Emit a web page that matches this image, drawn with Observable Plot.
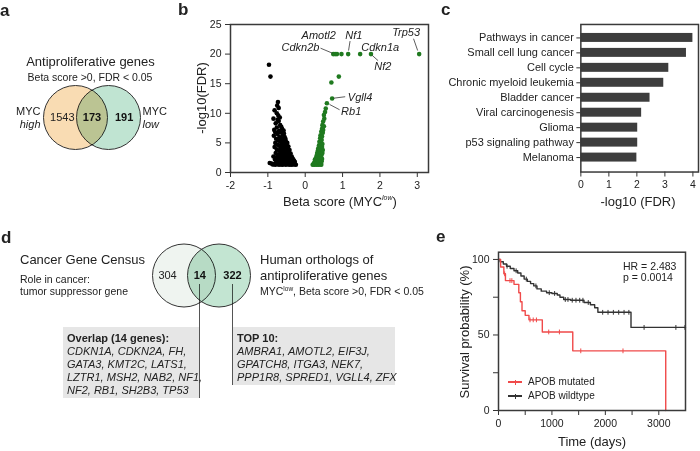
<!DOCTYPE html>
<html><head><meta charset="utf-8">
<script src="https://cdn.jsdelivr.net/npm/d3@7"></script>
<script src="https://cdn.jsdelivr.net/npm/@observablehq/plot@0.6"></script>
<style>
body{margin:0;background:#fff;font-family:"Liberation Sans",Arial,Helvetica,sans-serif;color:#222;}
#fig{position:relative;width:700px;height:451px;overflow:hidden;background:#fff;}
.abs{position:absolute;white-space:nowrap;line-height:1.15;}
.pl{position:absolute;}
.box{position:absolute;background:#e6e6e6;}
.vline{position:absolute;width:1px;background:#555;}
</style>
</head><body><div id="fig"></div>
<script>
// ---------------- DATA ----------------
// a: Venn
const vennASets = [
  {set: "MYC high", pos: -1, fill: "#f9dcb3"},
  {set: "MYC low", pos: 1, fill: "#c0e4d2"}
];
const vennACounts = [
  {label: "1543", pos: -1.8, bold: false},
  {label: "173", pos: 0, bold: true},
  {label: "191", pos: 1.95, bold: true}
];
// b: volcano (beta score, -log10 FDR)
const negGenes = [
  [-0.97,18.2],[-0.93,16.2],
  [-0.73,11.9],[-0.75,11.3],[-0.71,10.9],[-0.82,10.5],[-0.76,10.0],[-0.72,9.6],[-0.85,9.1],[-0.68,9.3],
  [-0.71,8.7],[-0.74,8.9],[-0.79,8.3],[-0.67,8.0],[-0.76,7.6],[-0.64,7.7],[-0.62,7.4],[-0.83,7.2],[-0.7,7.0],
  [-0.58,7.1],[-0.66,6.8],[-0.8,6.8],[-0.74,6.5],[-0.57,6.6],[-0.6,6.4],[-0.84,6.2],[-0.69,6.0],[-0.55,6.0],
  [-0.64,5.8],[-0.78,5.7],[-0.53,5.7],[-0.59,5.5],[-0.72,5.4],[-0.52,5.3],[-0.67,5.2],[-0.8,5.0],[-0.62,5.0],
  [-0.48,5.0],[-0.56,4.8],[-0.74,4.7],[-0.5,4.6],[-0.69,4.5],[-0.6,4.4],[-0.45,4.4],[-0.82,4.3],[-0.54,4.2],
  [-0.65,4.1],[-0.47,4.0],[-0.76,3.9],[-0.58,3.8],[-0.42,3.8],[-0.7,3.7],[-0.5,3.6],[-0.63,3.5],[-0.44,3.4],
  [-0.79,3.3],[-0.55,3.3],[-0.67,3.2],[-0.39,3.2],[-0.47,3.1],[-0.72,3.0],[-0.6,3.0],[-0.41,2.9],[-0.52,2.8],
  [-0.85,2.7],[-0.65,2.7],[-0.36,2.7],[-0.44,2.6],[-0.76,2.6],[-0.57,2.5],[-0.38,2.4],[-0.69,2.4],[-0.49,2.3],
  [-0.33,2.3],[-0.81,2.2],[-0.62,2.2],[-0.35,2.1],[-0.42,2.1],[-0.54,2.0],[-0.73,2.0],[-0.3,2.0],[-0.66,1.9],
  [-0.46,1.9],[-0.32,1.8],[-0.58,1.8],[-0.28,1.8],[-0.39,1.7],[-0.78,1.7],[-0.51,1.7],[-0.7,1.6],[-0.29,1.6],
  [-0.44,1.6],[-0.95,1.6],[-0.62,1.5],[-0.9,1.5],[-0.35,1.5],[-0.55,1.5],[-0.84,1.4],[-0.27,1.4],[-0.48,1.4],
  [-0.74,1.4],[-0.66,1.4],[-0.4,1.4],[-0.31,1.35],[-0.59,1.35],[-0.87,1.35],[-0.25,1.3],[-0.52,1.3],
  [-0.43,1.3],[-0.36,1.3],[-0.7,1.3],[-0.8,1.3],[-0.62,1.3]
];
const posGenes = [
  [0.2,1.3],[0.22,1.4],[0.25,1.3],[0.28,1.5],[0.3,1.3],[0.33,1.4],[0.36,1.3],[0.4,1.35],[0.43,1.3],
  [0.24,1.7],[0.27,1.9],[0.31,1.7],[0.35,1.8],[0.39,1.6],[0.42,1.55],[0.26,2.2],[0.29,2.5],[0.33,2.2],
  [0.37,2.0],[0.41,2.1],[0.44,1.9],[0.31,2.9],[0.34,2.7],[0.38,2.5],[0.42,2.6],[0.45,2.3],[0.32,3.3],
  [0.36,3.1],[0.4,3.0],[0.44,3.0],[0.34,3.7],[0.38,3.5],[0.42,3.4],[0.46,3.3],[0.35,4.1],[0.39,3.9],
  [0.43,3.9],[0.47,3.8],[0.37,4.6],[0.41,4.4],[0.45,4.3],[0.38,5.2],[0.42,5.0],[0.46,4.8],[0.4,5.8],
  [0.44,5.5],[0.41,6.3],[0.45,6.1],[0.43,6.9],[0.47,6.7],[0.45,7.4],[0.48,7.2],[0.46,8.0],[0.5,7.8],
  [0.48,8.6],[0.51,9.1],[0.5,9.7],[0.53,10.2],[0.55,10.8],[0.58,11.7],[0.72,12.5],[0.7,15.2],[0.9,16.2],
  [0.75,20],[0.8,20],[0.85,20],[0.97,20],[1.15,20],[1.47,20],[1.76,20],[3.05,20]
];
const geneLabels = [
  {gene: "Cdkn2b", tx: 0.38, ty: 21.2, anchor: "end"},
  {gene: "Amotl2", tx: 0.36, ty: 23.1, anchor: "middle"},
  {gene: "Nf1", tx: 1.3, ty: 23.1, anchor: "middle"},
  {gene: "Cdkn1a", tx: 1.5, ty: 21.2, anchor: "start"},
  {gene: "Nf2", tx: 1.85, ty: 17.9, anchor: "start"},
  {gene: "Trp53", tx: 2.7, ty: 23.6, anchor: "middle"},
  {gene: "Vgll4", tx: 1.14, ty: 12.7, anchor: "start"},
  {gene: "Rb1", tx: 0.96, ty: 10.35, anchor: "start"}
];
const geneLinks = [
  {gene: "Cdkn2b", x1: 0.41, y1: 21.0, x2: 0.73, y2: 20.15},
  {gene: "Nf1", x1: 1.2, y1: 22.2, x2: 1.16, y2: 20.6},
  {gene: "Nf2", x1: 1.79, y1: 19.8, x2: 1.95, y2: 18.9},
  {gene: "Trp53", x1: 2.9, y1: 22.6, x2: 3.01, y2: 20.6},
  {gene: "Vgll4", x1: 0.76, y1: 12.55, x2: 1.07, y2: 12.8},
  {gene: "Rb1", x1: 0.65, y1: 11.5, x2: 0.92, y2: 10.6}
];
// c: KEGG pathways
const pathways = ["Pathways in cancer","Small cell lung cancer","Cell cycle","Chronic myeloid leukemia",
  "Bladder cancer","Viral carcinogenesis","Glioma","p53 signaling pathway","Melanoma"];
const pathwayFdr = [4.0, 3.77, 3.14, 2.96, 2.47, 2.17, 2.03, 2.03, 2.0];
// d: Venn + gene lists
const vennDSets = [
  {set: "Cancer Gene Census", pos: -1, fill: "#eff4f0"},
  {set: "Human orthologs", pos: 1, fill: "#c3e5d2"}
];
const vennDCounts = [
  {label: "304", pos: -1.94, bold: false},
  {label: "14", pos: -0.1, bold: true},
  {label: "322", pos: 1.77, bold: true}
];
const overlapGenes = ["CDKN1A","CDKN2A","FH","GATA3","KMT2C","LATS1","LZTR1","MSH2","NAB2","NF1","NF2","RB1","SH2B3","TP53"];
const overlapLineSizes = [3,3,4,4];
const top10Genes = ["AMBRA1","AMOTL2","EIF3J","GPATCH8","ITGA3","NEK7","PPP1R8","SPRED1","VGLL4","ZFX"];
const top10LineSizes = [3,3,4];
// e: Kaplan-Meier
const wtTime = [0,30,90,150,220,290,360,420,480,540,600,660,720,800,900,1000,1100,1150,1220,1350,1600,1720,1800,1860,2480,3500];
const wtSurv = [100,98.5,97,95.5,94,92.5,91,89,87,85.5,84,82.5,80.5,79,78,77.5,76.5,75,73.5,73,71.5,70,68,65,55,55];
const wtCensor = [160,330,520,700,950,1050,1250,1300,1380,1450,1520,1580,1680,1950,2050,2150,2250,2350,2440,2725,3320,3490];
const mutTime = [0,40,100,130,290,380,410,440,500,570,820,1390,3130];
const mutSurv = [100,95,90.5,86,83.5,78,72,66,63,60,52,39.5,0];
const mutCensor = [115,215,250,590,650,710,940,1140,1540,2330];

// ---------------- HELPERS ----------------
const fig = document.getElementById("fig");
const FONT = '"Liberation Sans", Arial, Helvetica, sans-serif';
const intFmt = d => String(d);
function txt(html, x, y, opt = {}) {
  const el = document.createElement("div");
  el.className = "abs";
  el.innerHTML = html;
  el.style.left = x + "px";
  el.style.top = y + "px";
  el.style.fontSize = (opt.size || 11) + "px";
  if (opt.bold) el.style.fontWeight = "bold";
  if (opt.italic) el.style.fontStyle = "italic";
  const ax = opt.anchor === "middle" ? "-50%" : opt.anchor === "end" ? "-100%" : "0";
  el.style.transform = opt.rotate ? "translate(-50%,-50%) rotate(-90deg)" : `translate(${ax},-50%)`;
  fig.appendChild(el);
  return el;
}
function place(svg, x, y) {
  const d = document.createElement("div");
  d.className = "pl"; d.style.left = x + "px"; d.style.top = y + "px";
  d.appendChild(svg); fig.appendChild(d);
}
const baseStyle = {fontFamily: FONT, fontSize: "10.5px", color: "#222", background: "transparent", overflow: "visible"};

function venn(sets, counts, cfg) {
  const marks = [];
  sets.forEach(s => marks.push(Plot.dot([s], {x: "pos", r: cfg.r, fill: "fill", stroke: "#333", strokeWidth: 1, mixBlendMode: "multiply"})));
  marks.push(Plot.text(counts.filter(d => !d.bold), {x: "pos", text: "label", fontSize: 11, fill: "#222"}));
  marks.push(Plot.text(counts.filter(d => d.bold), {x: "pos", text: "label", fontSize: 11, fontWeight: "bold", fill: "#111"}));
  return Plot.plot({
    width: cfg.width, height: cfg.height, margin: 0, style: baseStyle,
    x: {domain: [-1, 1], range: cfg.xr}, color: {type: "identity"}, axis: null,
    marks: marks.concat(cfg.extra || [])
  });
}

// ---------------- PANEL LETTERS ----------------
txt("a", 0, 11, {size: 17, bold: true});
txt("b", 178, 10, {size: 17, bold: true});
txt("c", 441, 10, {size: 17, bold: true});
txt("d", 1, 238, {size: 17, bold: true});
txt("e", 436, 237, {size: 17, bold: true});

// ---------------- PANEL A ----------------
txt("Antiproliferative genes", 90.5, 62, {size: 13, anchor: "middle"});
txt("Beta score &gt;0, FDR &lt; 0.05", 90, 77, {size: 10.5, anchor: "middle"});
const sideA = [{pos: -3.12, top: "MYC", bottom: "high"}, {pos: 3.06, top: "MYC", bottom: "low"}];
place(venn(vennASets, vennACounts, {width: 180, height: 76, r: 32, xr: [75, 108], extra: [
  Plot.text([sideA[0]], {x: "pos", text: "top", dy: -6.5, textAnchor: "end", fontSize: 11}),
  Plot.text([sideA[0]], {x: "pos", text: "bottom", dy: 6.5, textAnchor: "end", fontSize: 11, fontStyle: "italic"}),
  Plot.text([sideA[1]], {x: "pos", text: "top", dy: -6.5, textAnchor: "start", fontSize: 11}),
  Plot.text([sideA[1]], {x: "pos", text: "bottom", dy: 6.5, textAnchor: "start", fontSize: 11, fontStyle: "italic"})
]}), 0, 79);

// ---------------- PANEL B ----------------
place(Plot.plot({
  width: 255, height: 190, marginLeft: 50, marginRight: 7, marginTop: 10, marginBottom: 32,
  style: baseStyle,
  x: {domain: [-2, 3.3]}, y: {domain: [0, 25]},
  marks: [
    Plot.axisX({ticks: [-2, -1, 0, 1, 2, 3], tickFormat: intFmt, tickSize: 5, tickPadding: 4, label: null, fontSize: 10.5, stroke: "#333"}),
    Plot.axisY({ticks: [0, 5, 10, 15, 20, 25], tickFormat: intFmt, tickSize: 5, label: null, fontSize: 10.5, stroke: "#333"}),
    Plot.dot(negGenes, {x: d => d[0], y: d => d[1], r: 2.3, fill: "#000"}),
    Plot.dot(posGenes, {x: d => d[0], y: d => d[1], r: 2.3, fill: "#1f7a1f"}),
    Plot.link(geneLinks, {x1: "x1", y1: "y1", x2: "x2", y2: "y2", stroke: "#333", strokeWidth: 0.8}),
    Plot.text(geneLabels.filter(d => d.anchor === "start"), {x: "tx", y: "ty", text: "gene", textAnchor: "start", fontStyle: "italic", fontSize: 11}),
    Plot.text(geneLabels.filter(d => d.anchor === "middle"), {x: "tx", y: "ty", text: "gene", textAnchor: "middle", fontStyle: "italic", fontSize: 11}),
    Plot.text(geneLabels.filter(d => d.anchor === "end"), {x: "tx", y: "ty", text: "gene", textAnchor: "end", fontStyle: "italic", fontSize: 11}),
    Plot.frame({stroke: "#3a3a3a", strokeWidth: 1.5})
  ]
}), 180, 14);
txt("-log10(FDR)", 202, 98, {size: 13, rotate: true});
txt("Beta score (MYC<sup style='font-size:7px;font-style:italic'>low</sup>)", 340, 202, {size: 13, anchor: "middle"});

// ---------------- PANEL C ----------------
const pathwayData = pathways.map((p, i) => ({pathway: p, value: pathwayFdr[i]}));
place(Plot.plot({
  width: 341, height: 190, marginLeft: 221, marginRight: 2, marginTop: 10, marginBottom: 32,
  style: baseStyle,
  x: {domain: [0, 4.2]}, y: {domain: pathways, padding: 0.38},
  marks: [
    Plot.barX(pathwayData, {x: "value", y: "pathway", fill: "#3d3d3d"}),
    Plot.axisX({ticks: [0, 1, 2, 3, 4], tickFormat: intFmt, tickSize: 5, tickPadding: 4, label: null, fontSize: 10.5, stroke: "#333"}),
    Plot.axisY({tickSize: 4, label: null, fontSize: 11, stroke: "#333", tickPadding: 3}),
    Plot.frame({stroke: "#3a3a3a", strokeWidth: 1.5})
  ]
}), 360, 14);
txt("-log10 (FDR)", 638, 202, {size: 13, anchor: "middle"});

// ---------------- PANEL D ----------------
txt("Cancer Gene Census", 20, 260, {size: 13});
txt("Role in cancer:", 20, 279, {size: 10.5});
txt("tumor suppressor gene", 20, 291, {size: 10.5});
txt("Human orthologs of", 260, 260, {size: 13});
txt("antiproliferative genes", 260, 276, {size: 13});
txt("MYC<sup style='font-size:6.5px'>low</sup>, Beta score &gt;0, FDR &lt; 0.05", 260, 291, {size: 10.5});

function box(x, y, w, h) {
  const b = document.createElement("div"); b.className = "box";
  Object.assign(b.style, {left: x + "px", top: y + "px", width: w + "px", height: h + "px"});
  fig.appendChild(b);
}
function vline(x, y, h) {
  const b = document.createElement("div"); b.className = "vline";
  Object.assign(b.style, {left: x + "px", top: y + "px", height: h + "px"});
  fig.appendChild(b);
}
box(63, 327, 136, 71);
box(232, 327, 163, 58);
vline(199, 284, 114);
vline(232, 284, 101);
place(venn(vennDSets, vennDCounts, {width: 120, height: 78, r: 31.5, xr: [43.5, 78.5]}), 140, 236);

function chunk(arr, sizes) {
  const out = []; let k = 0;
  sizes.forEach((n, i) => { const part = arr.slice(k, k + n); k += n; out.push(part.join(", ") + (i < sizes.length - 1 ? "," : "")); });
  return out;
}
txt("Overlap (14 genes):", 67, 338, {size: 11, bold: true});
chunk(overlapGenes, overlapLineSizes).forEach((line, i) => txt(line, 67, 351 + i * 13, {size: 11, italic: true}));
txt("TOP 10:", 237, 338, {size: 11, bold: true});
chunk(top10Genes, top10LineSizes).forEach((line, i) => txt(line, 237, 351 + i * 13, {size: 11, italic: true}));

// ---------------- PANEL E ----------------
const wt = wtTime.map((t, i) => ({t, s: wtSurv[i]}));
const mut = mutTime.map((t, i) => ({t, s: mutSurv[i]}));
function survAt(times, surv, t) { const i = d3.bisectRight(times, t) - 1; return surv[Math.max(0, i)]; }
const wtC = wtCensor.map(t => ({t, s: survAt(wtTime, wtSurv, t)}));
const mutC = mutCensor.map(t => ({t, s: survAt(mutTime, mutSurv, t)}));
const tickShape = {draw(ctx, l) { ctx.moveTo(0, 0); ctx.lineTo(0, -l); }};
const RED = "#f04a4a", DARK = "#333";
place(Plot.plot({
  width: 225, height: 190, marginLeft: 28, marginRight: 10, marginTop: 11.7, marginBottom: 20,
  style: baseStyle,
  x: {domain: [0, 3500]}, y: {domain: [0, 104.8]},
  marks: [
    Plot.axisX({ticks: [0, 1000, 2000, 3000], tickFormat: intFmt, tickSize: 5, tickPadding: 4, label: null, fontSize: 10.5, stroke: "#333"}),
    Plot.axisX({ticks: [500, 1500, 2500], tickSize: 5, label: null, tickFormat: () => "", stroke: "#333"}),
    Plot.axisY({ticks: [0, 50, 100], tickFormat: intFmt, tickSize: 5, label: null, fontSize: 10.5, stroke: "#333"}),
    Plot.axisY({ticks: [25, 75], tickSize: 5, label: null, tickFormat: () => "", stroke: "#333"}),
    Plot.line(wt, {x: "t", y: "s", curve: "step-after", stroke: DARK, strokeWidth: 1.4}),
    Plot.line(mut, {x: "t", y: "s", curve: "step-after", stroke: RED, strokeWidth: 1.4}),
    Plot.vector(wtC, {x: "t", y: "s", length: 4, anchor: "middle", rotate: 0, stroke: DARK, strokeWidth: 1, shape: tickShape}),
    Plot.vector(mutC, {x: "t", y: "s", length: 4, anchor: "middle", rotate: 0, stroke: RED, strokeWidth: 1, shape: tickShape}),
    Plot.frame({stroke: "#3a3a3a", strokeWidth: 1.5})
  ]
}), 470, 240);
txt("Survival probability (%)", 465, 332, {size: 13, rotate: true});
txt("Time (days)", 592, 442, {size: 13, anchor: "middle"});
txt("HR = 2.483", 623, 266, {size: 10.5});
txt("p = 0.0014", 623, 277, {size: 10.5});
// legend
const legendItems = [{label: "APOB mutated", color: RED, y: 382}, {label: "APOB wildtype", color: DARK, y: 396}];
legendItems.forEach(it => {
  const l = document.createElement("div");
  Object.assign(l.style, {position: "absolute", left: "508px", top: (it.y - 0.7) + "px", width: "14px", height: "1.4px", background: it.color});
  fig.appendChild(l);
  const t = document.createElement("div");
  Object.assign(t.style, {position: "absolute", left: "514.5px", top: (it.y - 2.5) + "px", width: "1px", height: "5px", background: it.color});
  fig.appendChild(t);
  txt(it.label, 528, it.y, {size: 10});
});
</script></body></html>
